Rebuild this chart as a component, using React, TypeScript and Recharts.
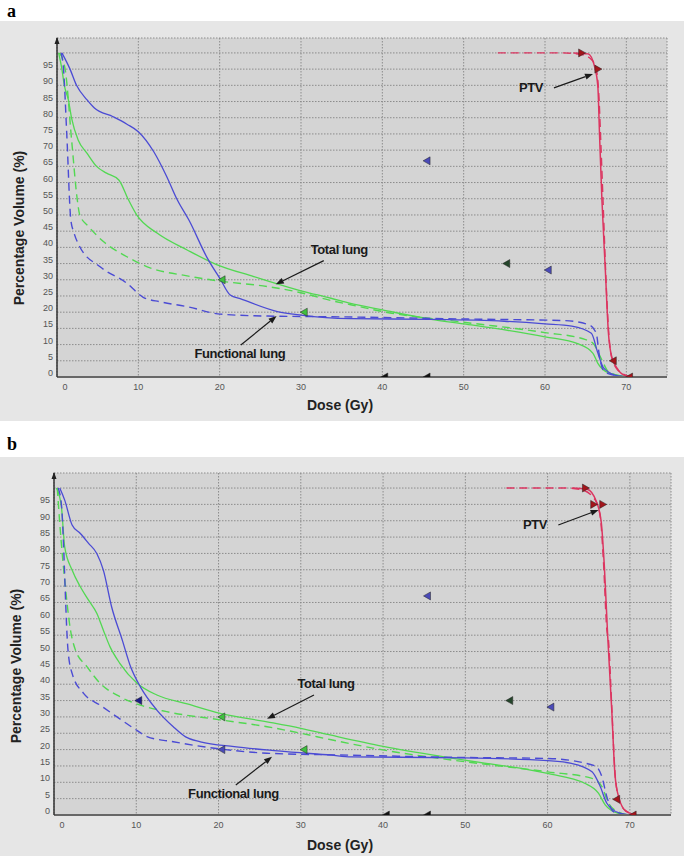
import React from 'react';
import {
  ComposedChart, Line, Scatter, XAxis, YAxis, CartesianGrid,
  ReferenceLine, ReferenceDot
} from 'recharts';

// dose ticks (Gy) and volume ticks (%)
const doseTicks = [0, 10, 20, 30, 40, 50, 60, 70];
const volTicks = [0, 5, 10, 15, 20, 25, 30, 35, 40, 45, 50, 55, 60, 65, 70, 75, 80, 85, 90, 95, 100];

// panel a: [dose, volume]
const aFuncSolid = [[0.6,100],[1.6,95],[2.4,90],[3.7,85.5],[4.6,83],[6.9,80.3],[8.6,78],[10,75.7],[11.9,69.5],[13.5,61.8],[14.8,54.6],[16.2,48.5],[18.5,36.6],[20.1,30.1],[21.3,25.3],[22.6,24.1],[27.1,20.2],[30,19.1],[36,18],[46,17.8],[55,17.2],[60,16.4],[63.3,15.7],[65.7,13.5],[66.5,7.4],[67.2,2.8],[68.6,0.6],[70,0]];
const aFuncDash = [[0.5,100],[0.8,95],[1.2,75],[1.7,48.5],[2.1,44.4],[2.8,40.2],[5.3,34],[8.6,28.9],[10.6,24.6],[12.7,23.2],[16,21.7],[20.1,19.4],[25.9,18.8],[33.7,18.6],[50,17.9],[62.4,17.4],[65.5,16],[66.3,13.5],[66.7,6.3],[67.3,1.6],[69,0.3],[70,0]];
const aTotalSolid = [[0.2,100],[0.6,95],[0.9,90],[1.4,85.5],[1.8,79.8],[2.6,73.1],[3.7,69],[4.9,64.9],[6.1,62.9],[7.6,60.8],[8.8,54.6],[9.8,50],[12.3,44.4],[16,39.2],[19.7,34.6],[24.2,31],[30,26.6],[33.7,24.3],[36.1,22.7],[40,20.7],[46,17.8],[50,16.4],[60,12.4],[64.1,10.2],[65.9,7.3],[66.5,4.2],[67.8,1.3],[70.7,0]];
const aTotalDash = [[0.3,100],[1,95],[1.8,73],[2.5,54.6],[2.8,50],[3.9,46.4],[5.7,41.8],[8.6,37.1],[11.1,34],[16,31.2],[19.7,29.7],[25.9,27.9],[30,26],[33.7,23.6],[36.1,22.3],[40,20.2],[50,16.9],[60,13.7],[64.9,11.6],[65.9,10.4],[67,5.2],[67.8,1.6],[70,0]];
const aPtvSolid = [[63.5,100],[65.3,99.7],[66.1,95.8],[66.5,89.6],[66.7,75.2],[67,54.6],[67.4,34],[67.8,13.5],[68.2,6.3],[69,2.2],[70,0.3],[71,0]];
const aPtvDash = [[54.2,100],[62,100],[64.5,99.5],[65.7,98],[66.3,95],[66.6,88],[66.9,70],[67.2,50],[67.5,30],[67.8,15],[68.2,6],[69,2],[70,0.5],[71,0]];

// panel b
const bFuncSolid = [[0.7,100],[1.3,96.3],[2.2,88.7],[3.2,86.1],[4.2,83.1],[5.2,80],[6,74.9],[7,63.7],[8.3,53.5],[9.3,45.4],[10.5,39.2],[12.5,32.1],[14.5,27],[16,23.9],[17.8,22.4],[21.9,20.9],[27.2,19.6],[33.7,18.3],[36.1,17.8],[49.9,17.5],[60,16.6],[62.9,15.8],[65.4,13.2],[66.4,8.7],[67.2,3.6],[68.6,0.7],[70,0]];
const bFuncDash = [[0.5,100],[0.9,95],[1.7,50.5],[2.2,43.3],[3.6,37.2],[5.6,33.6],[7.6,30.1],[9.7,26.5],[11.3,24],[14.5,22.4],[20.2,20.2],[25.9,18.9],[36.1,18.3],[49.9,17.6],[60,17.3],[65.8,15],[66.6,11.7],[67.2,5.6],[68,1],[69.5,0]];
const bTotalSolid = [[0.3,100],[0.9,94.3],[1.3,82],[2.2,74.9],[3.2,69.8],[4.2,65.7],[5.2,61.7],[6,56.5],[6.8,51.5],[8,46.4],[10.1,40.3],[12.5,36.7],[16.2,34],[20.2,31.1],[25.9,28.5],[30,26.5],[33.7,24.4],[40,21],[49.9,16.8],[60,12.7],[64.5,9.7],[66.2,6.6],[67,3.1],[68.6,0.5],[70,0]];
const bTotalDash = [[0.4,100],[0.7,89.2],[1.3,71.9],[2,56.6],[2.6,50.5],[4,45.4],[5.6,40.3],[8,36.2],[10.5,33.6],[13.7,31.6],[20.2,29.1],[25.9,27],[30,25],[33.7,23],[40,19.9],[49.9,16.3],[60,13.2],[65.4,11.2],[66.6,8.7],[67.4,3.6],[69,0.5],[70,0]];
const bPtvSolid = [[63,100],[64.8,99.6],[65.9,96],[66.5,90],[66.9,76],[67.3,55],[67.8,32],[68.2,12],[68.7,5],[69.5,1.2],[70.5,0.2],[71,0]];
const bPtvDash = [[55,100],[62.1,100],[64.1,99.5],[65.8,96.3],[66.4,91.2],[66.8,77],[67.2,56.6],[67.4,53.5],[67.8,33.1],[68.2,12.7],[68.6,5.6],[69.4,1.5],[71,0],[72,0]];

// constraint markers: [dose, volume, structure]
const aMarksLeft = [[20.3,30,'total'],[30.4,20,'total'],[45.5,66.7,'func'],[55.3,35,'plan'],[60.4,33,'func'],[40.3,0,'black'],[45.5,0,'black'],[68.4,5,'ptv'],[70.4,0,'ptv']];
const aMarksRight = [[64.5,100,'ptv'],[66.5,95,'ptv']];
const bMarksLeft = [[10.3,35,'navy'],[20.4,30,'total'],[20.4,20,'func'],[30.4,20,'total'],[45.4,67,'func'],[55.4,35,'plan'],[60.4,33,'func'],[40.4,0,'black'],[45.4,0,'black'],[68.4,4.8,'ptv'],[70.4,0,'ptv']];
const bMarksRight = [[64.6,100,'ptv'],[65.6,95,'ptv'],[66.7,95,'ptv']];

// annotations: text at [dose, volume], arrows [fromDose, fromVol, toDose, toVol]
const aNotes = [['Total lung', 31.2, 39.2], ['Functional lung', 16.9, 7.1], ['PTV', 56.8, 89.2]];
const aArrows = [[32.8,35.9,26.9,28.6],[22.6,9.9,27,18.8],[61.1,89.2,65.9,93.5]];
const bNotes = [['Total lung', 29.6, 40.1], ['Functional lung', 16.3, 6.7], ['PTV', 57, 88.7]];
const bArrows = [[31.6,36.7,25.9,29.4],[22.1,9.2,26.5,17.8],[61.3,88.7,66.2,93.3]];

const BLUE = '#4b4bd4';
const GREEN = '#52d852';
const RED = '#dc3560';
const markColor: Record<string, string> = {
  total: '#3fbf3f', func: '#4a4ab8', navy: '#1c1c8a', plan: '#24452a', black: '#111111', ptv: '#a3151b',
};
const SANS = '"Liberation Sans", Arial, sans-serif';

const pts = (arr: number[][]) => arr.map(([d, v]) => ({ d, v }));
const marks = (arr: any[]) => arr.map(([d, v, s]) => ({ d, v, s }));

const LeftTri = (p: any) => {
  const { cx, cy, payload } = p;
  const c = markColor[payload.s];
  return <polygon points={`${cx - 4},${cy} ${cx + 3},${cy - 4} ${cx + 3},${cy + 4}`} fill={c} stroke="#222" strokeWidth={0.5} />;
};
const RightTri = (p: any) => {
  const { cx, cy, payload } = p;
  const c = markColor[payload.s];
  return <polygon points={`${cx + 4},${cy} ${cx - 3},${cy - 4} ${cx - 3},${cy + 4}`} fill={c} stroke="#222" strokeWidth={0.5} />;
};

const Arrow = (p: any) => {
  const { x1, y1, x2, y2 } = p;
  const a = Math.atan2(y2 - y1, x2 - x1);
  const L = 8, W = 3;
  const bx = x2 - L * Math.cos(a), by = y2 - L * Math.sin(a);
  const nx = -Math.sin(a) * W, ny = Math.cos(a) * W;
  return (
    <g>
      <line x1={x1} y1={y1} x2={bx} y2={by} stroke="#1a1a1a" strokeWidth={1.2} />
      <polygon points={`${x2},${y2} ${bx + nx},${by + ny} ${bx - nx},${by - ny}`} fill="#1a1a1a" />
    </g>
  );
};

const XTick = (p: any) => {
  const { x, y, payload } = p;
  return (
    <text x={x + (payload.value === 0 ? 8 : 0)} y={y + 13} textAnchor="middle" fontSize={9} fill="#555" fontFamily={SANS}>
      {payload.value}
    </text>
  );
};
const YTick = (p: any) => {
  const { x, y, payload } = p;
  if (payload.value === 100) return <g />;
  return (
    <text x={x - 4} y={y - 1} textAnchor="end" fontSize={9} fill="#555" fontFamily={SANS}>
      {payload.value}
    </text>
  );
};

function Panel(props: any) {
  const { letter, letterTop, top, height, margin, yw, xh, data, markL, markR, notes, arrows, yTitle, xTitle } = props;
  return (
    <>
      <div style={{ position: 'absolute', left: 7, top: letterTop, fontFamily: '"Liberation Serif", "Times New Roman", serif', fontWeight: 'bold', fontSize: 18, lineHeight: '18px' }}>
        {letter}
      </div>
      <div style={{ position: 'absolute', left: 0, top, width: 684, height, background: '#e6e6e6' }}>
        <ComposedChart width={684} height={height} margin={margin}>
          <CartesianGrid fill="#d4d4d4" fillOpacity={1} stroke="#8c8c8c" strokeDasharray="1.5 1.5" />
          <XAxis type="number" dataKey="d" domain={[0, 75]} ticks={doseTicks} allowDataOverflow interval={0}
            height={xh} tickSize={0} tickMargin={0} tickLine={false} tick={XTick}
            axisLine={{ stroke: '#676767', strokeWidth: 2 }} />
          <YAxis type="number" dataKey="v" domain={[0, 104.6]} ticks={volTicks} allowDataOverflow interval={0}
            width={yw} tickSize={0} tickMargin={0} tickLine={false} tick={YTick}
            axisLine={{ stroke: '#333', strokeWidth: 1.5 }} />
          <Line data={pts(data.totalSolid)} dataKey="v" type="monotone" stroke={GREEN} strokeWidth={1.3} dot={false} isAnimationActive={false} />
          <Line data={pts(data.totalDash)} dataKey="v" type="monotone" stroke={GREEN} strokeWidth={1.4} strokeDasharray="8 5" dot={false} isAnimationActive={false} />
          <Line data={pts(data.funcSolid)} dataKey="v" type="monotone" stroke={BLUE} strokeWidth={1.3} dot={false} isAnimationActive={false} />
          <Line data={pts(data.funcDash)} dataKey="v" type="monotone" stroke={BLUE} strokeWidth={1.4} strokeDasharray="8 5" dot={false} isAnimationActive={false} />
          <Line data={pts(data.ptvSolid)} dataKey="v" type="monotone" stroke={RED} strokeWidth={1.5} dot={false} isAnimationActive={false} />
          <Line data={pts(data.ptvDash)} dataKey="v" type="monotone" stroke={RED} strokeWidth={1.4} strokeDasharray="8 5" dot={false} isAnimationActive={false} />
          <Scatter data={marks(markL)} shape={LeftTri} isAnimationActive={false} />
          <Scatter data={marks(markR)} shape={RightTri} isAnimationActive={false} />
          <ReferenceDot x={0} y={104.6} ifOverflow="visible"
            shape={(p: any) => <polygon points={`${p.cx},${p.cy - 1} ${p.cx - 2.5},${p.cy + 6} ${p.cx + 2.5},${p.cy + 6}`} fill="#222" />} />
          {arrows.map((a: number[], i: number) => (
            <ReferenceLine key={'ar' + i} segment={[{ x: a[0], y: a[1] }, { x: a[2], y: a[3] }]} ifOverflow="visible" shape={Arrow} />
          ))}
          {notes.map((n: any[], i: number) => (
            <ReferenceDot key={'nt' + i} x={n[1]} y={n[2]} ifOverflow="visible"
              shape={(p: any) => (
                <text x={p.cx} y={p.cy} dominantBaseline="central" fontSize={13} fontWeight="bold" fill="#1a1a1a" fontFamily={SANS} letterSpacing={-0.4}>
                  {n[0]}
                </text>
              )} />
          ))}
        </ComposedChart>
      </div>
      <div style={{ position: 'absolute', left: yTitle[0], top: yTitle[1], transform: 'translate(-50%, -50%) rotate(-90deg)', whiteSpace: 'nowrap', fontFamily: SANS, fontWeight: 'bold', fontSize: 14, color: '#222' }}>
        Percentage Volume (%)
      </div>
      <div style={{ position: 'absolute', left: xTitle[0], top: xTitle[1], transform: 'translate(-50%, -50%)', whiteSpace: 'nowrap', fontFamily: SANS, fontWeight: 'bold', fontSize: 14, color: '#222' }}>
        Dose (Gy)
      </div>
    </>
  );
}

export default function App() {
  return (
    <div style={{ position: 'absolute', left: 0, top: 0, width: 685, height: 860, background: '#fff' }}>
      <Panel letter="a" letterTop={1.5} top={21} height={400} yw={57} xh={44} margin={{ top: 17, right: 17, bottom: 0, left: 0 }}
        data={{ funcSolid: aFuncSolid, funcDash: aFuncDash, totalSolid: aTotalSolid, totalDash: aTotalDash, ptvSolid: aPtvSolid, ptvDash: aPtvDash }}
        markL={aMarksLeft} markR={aMarksRight} notes={aNotes} arrows={aArrows}
        yTitle={[19, 228]} xTitle={[340, 405]} />
      <Panel letter="b" letterTop={435} top={457} height={399} yw={54} xh={41} margin={{ top: 16, right: 13, bottom: 0, left: 0 }}
        data={{ funcSolid: bFuncSolid, funcDash: bFuncDash, totalSolid: bTotalSolid, totalDash: bTotalDash, ptvSolid: bPtvSolid, ptvDash: bPtvDash }}
        markL={bMarksLeft} markR={bMarksRight} notes={bNotes} arrows={bArrows}
        yTitle={[16, 666]} xTitle={[340, 845]} />
    </div>
  );
}
